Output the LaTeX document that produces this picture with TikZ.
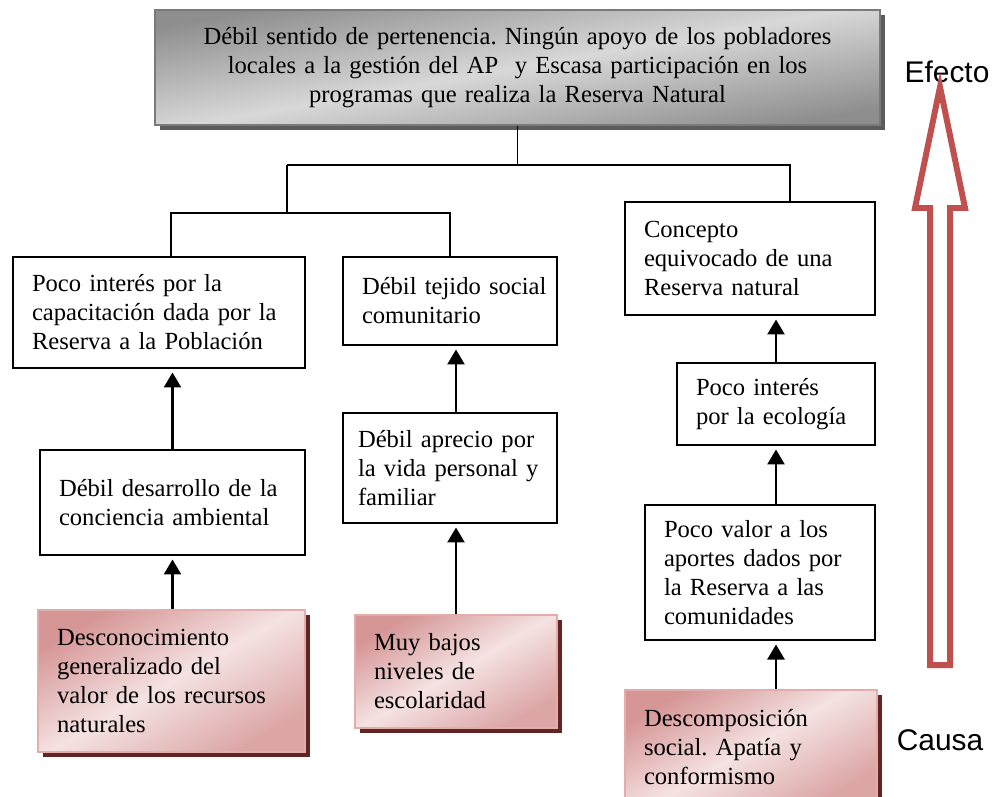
\documentclass[tikz,border=0pt]{standalone}
\usepackage{fontspec}
\setmainfont{Liberation Serif}[WordSpace=0.85]
\newfontfamily\arialfont{Liberation Sans}
\usetikzlibrary{arrows.meta,shadows}
\newcommand\boxfont{\frenchspacing\hyphenpenalty=10000\relax\fontsize{14}{16.5}\selectfont}
\definecolor{greydark}{HTML}{8E8E8E}
\definecolor{greylight}{HTML}{D8D8D8}
\definecolor{greyline}{HTML}{7A7A7A}
\definecolor{greyshadow}{HTML}{5C5C5C}
\definecolor{rosedark}{HTML}{D69696}
\definecolor{roselight}{HTML}{F5E2E2}
\definecolor{roseline}{HTML}{E2AEAD}
\definecolor{roseshadow}{HTML}{632523}
\definecolor{effred}{HTML}{C0504D}
\tikzset{
  cbox/.style={rectangle, draw=black, fill=white, line width=1.1pt, align=left,
               inner xsep=0.38cm, inner ysep=3pt, font=\boxfont},
  causebox/.style={cbox, draw=roseline, line width=0.6pt, top color=rosedark, bottom color=rosedark!85,
               middle color=roselight, shading angle=30,
               drop shadow={shadow xshift=0.1cm, shadow yshift=-0.1cm, fill=roseshadow, opacity=1}},
  effbox/.style={cbox, draw=greyline, line width=0.6pt, align=center, top color=greydark, bottom color=greydark,
               middle color=greylight, shading angle=10,
               drop shadow={shadow xshift=0.1cm, shadow yshift=-0.1cm, fill=greyshadow, opacity=1}},
  tree/.style={line width=1pt},
  fl/.style={-{Triangle[length=0.3cm, width=0.34cm]}, line width=1.5pt, shorten >=2pt},
  bigarrow/.style={draw=effred, line width=3.4pt, line join=miter},
  sidelabel/.style={font=\arialfont\fontsize{17}{20}\selectfont, inner sep=0pt},
}
\begin{document}
\begin{tikzpicture}
\useasboundingbox (0,0) rectangle (19.98,-15.92);

\node[effbox, text width=13.74cm, minimum height=2.30cm] (top) at (10.35,-1.35) {Débil sentido de pertenencia. Ningún apoyo de los pobladores\\locales a la gestión del AP~ y Escasa participación en los\\programas que realiza la Reserva Natural};

\node[cbox, text width=5.08cm, minimum height=2.22cm] (cap) at (3.18,-6.25) {Poco interés por la\\capacitación dada por la\\Reserva a la Población};
\node[cbox, text width=3.52cm, minimum height=1.76cm] (tejido) at (9.00,-6.02) {Débil~tejido~social\\comunitario};
\node[cbox, text width=4.24cm, minimum height=2.26cm] (concepto) at (15.00,-5.17) {Concepto\\equivocado de una\\Reserva natural};

\node[cbox, text width=4.54cm, minimum height=2.10cm] (conciencia) at (3.45,-10.05) {Débil desarrollo de la\\conciencia ambiental};
\node[cbox, inner xsep=0.3cm, text width=3.68cm, minimum height=2.20cm] (aprecio) at (9.00,-9.36) {Débil aprecio por\\la vida personal y\\familiar};
\node[cbox, text width=3.20cm, minimum height=1.64cm] (ecologia) at (15.52,-8.08) {Poco interés\\por la ecología};
\node[cbox, text width=3.84cm, minimum height=2.70cm] (aportes) at (15.20,-11.45) {Poco valor a los\\aportes dados por\\la Reserva a las\\comunidades};

\node[causebox, text width=4.58cm, minimum height=2.84cm] (recursos) at (3.43,-13.62) {Desconocimiento\\generalizado del\\valor de los recursos\\naturales};
\node[causebox, text width=3.28cm, minimum height=2.26cm] (escolar) at (9.12,-13.43) {Muy bajos\\niveles de\\escolaridad};
\node[causebox, text width=4.28cm, minimum height=2.28cm] (apatia) at (15.02,-14.94) {Descomposición\\social. Apatía y\\conformismo};

% tree
\coordinate (split) at (5.74,-3.30);
\coordinate (fork) at (5.74,-4.26);
\draw[tree] (top.south) -- (top.south |- split);
\draw[tree] (split) -| ([xshift=0.8cm]concepto.north);
\draw[tree] (split) -- (fork);
\draw[tree] ([xshift=0.24cm]cap.north) |- (fork) -| (tejido.north);

% causes up to effects
\draw[fl] (conciencia.north) -- (conciencia.north |- cap.south);
\draw[fl] (recursos.north -| conciencia.north) -- (conciencia.south);
\draw[fl] (aprecio.north -| escolar.north) -- (tejido.south -| escolar.north);
\draw[fl] (escolar.north) -- (escolar.north |- aprecio.south);
\draw[fl] (ecologia.north) -- (ecologia.north |- concepto.south);
\draw[fl] (aportes.north -| ecologia.north) -- (ecologia.south);
\draw[fl] (apatia.north -| ecologia.north) -- (aportes.south -| ecologia.north);

% side arrow
\node[sidelabel] (efecto) at (18.94,-1.44) {Efecto};
\node[sidelabel] (causa) at (18.80,-14.80) {Causa};
\draw[bigarrow] (18.80,-1.74) -- (19.30,-4.16) -- (19.00,-4.16) -- (19.00,-13.30)
  -- (18.60,-13.30) -- (18.60,-4.16) -- (18.30,-4.16) -- cycle;
\end{tikzpicture}
\end{document}
